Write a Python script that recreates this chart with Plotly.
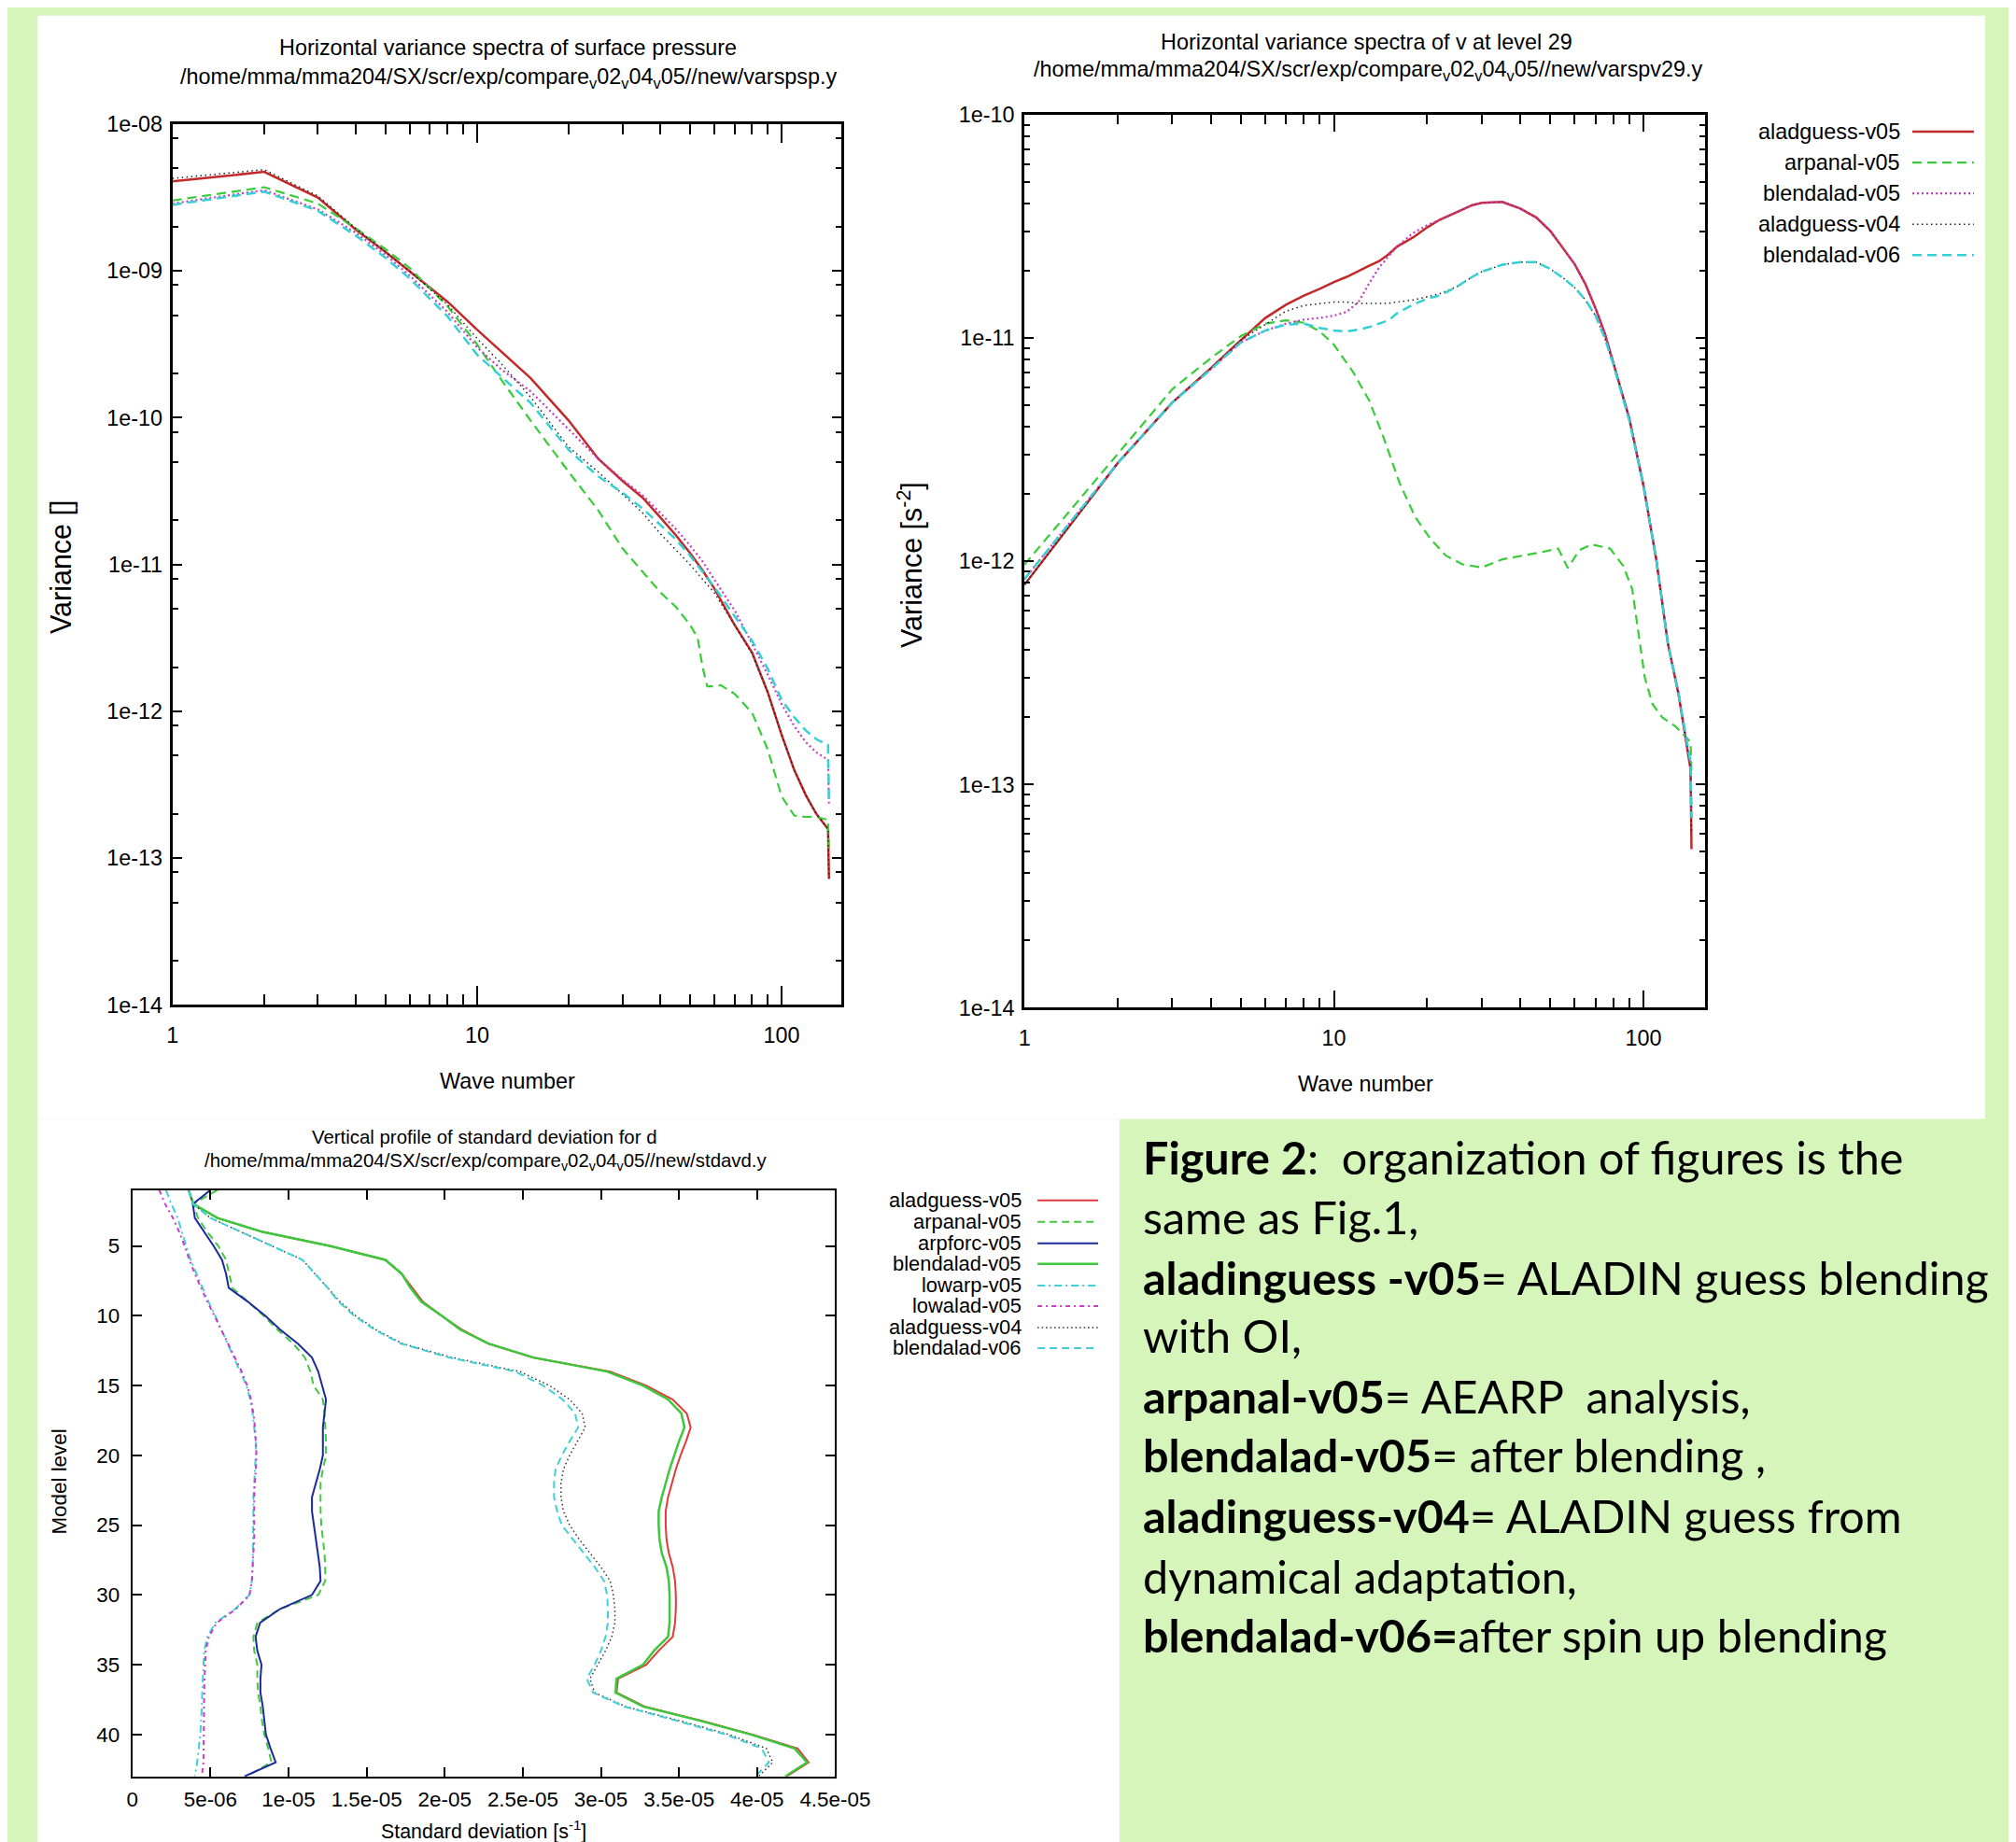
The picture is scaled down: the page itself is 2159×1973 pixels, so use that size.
import plotly.graph_objects as go

W, H = 2159, 1973
# The photographed page shows the figure slightly scaled and offset; these
# constants map target picture pixels back to figure (paper) coordinates.
SX, OX = 0.9803, 14.6
SY, OY = 0.9853, 22.2


def px(x):
    return (x - OX) / SX / W


def py(y):
    return 1 - (y - OY) / SY / H


def fs(s):
    return round(s / 0.982, 1)


# ---------------- Panel 1: surface pressure spectra ----------------
sp_wn = [1, 2, 3, 4, 5, 6, 8, 10, 12, 15, 20, 25, 30, 35, 40, 45, 50, 55, 60, 70, 80, 90, 100, 110, 120, 130, 142, 143]
sp_aladguess_v05 = [4.07e-9, 4.73e-9, 3.16e-9, 1.91e-9, 1.35e-9, 1.00e-9, 6.17e-10, 3.98e-10, 2.82e-10, 1.86e-10,
                    9.55e-11, 5.25e-11, 3.72e-11, 2.85e-11, 2.09e-11, 1.58e-11, 1.20e-11, 9.12e-12, 6.92e-12, 3.89e-12,
                    2.51e-12, 1.35e-12, 6.92e-13, 3.98e-13, 2.69e-13, 2.00e-13, 1.58e-13, 7.24e-14]
sp_blendalad_v05 = [2.88e-9, 3.55e-9, 2.63e-9, 1.82e-9, 1.29e-9, 9.33e-10, 5.25e-10, 3.02e-10, 2.14e-10, 1.51e-10,
                    8.32e-11, 5.25e-11, 3.80e-11, 2.95e-11, 2.24e-11, 1.74e-11, 1.35e-11, 1.05e-11, 7.94e-12, 4.90e-12,
                    2.88e-12, 1.78e-12, 1.12e-12, 7.94e-13, 6.17e-13, 5.25e-13, 4.68e-13, 2.34e-13]
sp_aladguess_v04 = [4.27e-9, 4.90e-9, 3.24e-9, 1.95e-9, 1.35e-9, 1.00e-9, 5.89e-10, 3.47e-10, 2.34e-10, 1.38e-10,
                    6.31e-11, 4.27e-11, 3.02e-11, 2.24e-11, 1.62e-11, 1.26e-11, 1.00e-11, 7.94e-12, 6.46e-12, 3.89e-12,
                    2.45e-12, 1.35e-12, 6.92e-13, 3.98e-13, 2.69e-13, 2.00e-13, 1.58e-13, 7.24e-14]
sp_blendalad_v06 = [2.82e-9, 3.47e-9, 2.57e-9, 1.74e-9, 1.23e-9, 8.91e-10, 4.90e-10, 2.69e-10, 1.91e-10, 1.26e-10,
                    6.03e-11, 3.98e-11, 3.09e-11, 2.40e-11, 1.86e-11, 1.48e-11, 1.15e-11, 8.91e-12, 7.08e-12, 4.47e-12,
                    3.02e-12, 1.95e-12, 1.20e-12, 9.12e-13, 7.41e-13, 6.46e-13, 5.89e-13, 2.34e-13]
sp_wn_arpanal = [1, 2, 3, 4, 5, 6, 8, 10, 12, 15, 20, 25, 30, 35, 40, 45, 50, 53, 55, 57, 60, 63, 70, 80, 90, 100,
                 110, 120, 130, 142, 143]
sp_arpanal_v05 = [3.02e-9, 3.72e-9, 2.88e-9, 1.95e-9, 1.41e-9, 1.05e-9, 5.75e-10, 3.16e-10, 1.82e-10, 9.55e-11,
                  4.27e-11, 2.34e-11, 1.29e-11, 8.91e-12, 6.46e-12, 5.13e-12, 3.89e-12, 3.16e-12, 2.00e-12, 1.48e-12,
                  1.48e-12, 1.51e-12, 1.32e-12, 9.77e-13, 5.50e-13, 2.63e-13, 1.95e-13, 1.91e-13, 1.91e-13, 1.82e-13,
                  1.10e-13]

# ---------------- Panel 2: v at level 29 spectra ----------------
v29_wn = [1, 2, 3, 4, 5, 6, 7, 8, 9, 10, 11, 12, 13, 14, 15, 16, 18, 20, 22, 25, 28, 30, 35, 40, 45, 50, 55, 60,
          65, 70, 75, 80, 85, 90, 100, 110, 120, 130, 142, 143]
v29_aladguess_v05 = [7.85e-13, 2.75e-12, 5.13e-12, 7.33e-12, 9.77e-12, 1.23e-11, 1.41e-11, 1.55e-11, 1.66e-11,
                     1.78e-11, 1.88e-11, 2.00e-11, 2.11e-11, 2.21e-11, 2.37e-11, 2.57e-11, 2.82e-11, 3.13e-11,
                     3.39e-11, 3.67e-11, 3.94e-11, 4.03e-11, 4.07e-11, 3.80e-11, 3.47e-11, 3.02e-11, 2.51e-11,
                     2.14e-11, 1.74e-11, 1.36e-11, 1.05e-11, 7.76e-12, 5.75e-12, 4.37e-12, 2.19e-12, 1.02e-12,
                     4.27e-13, 2.51e-13, 1.17e-13, 5.13e-14]
v29_blendalad_v05 = [8.32e-13, 2.75e-12, 5.13e-12, 7.24e-12, 9.55e-12, 1.08e-11, 1.16e-11, 1.21e-11, 1.23e-11,
                     1.26e-11, 1.31e-11, 1.45e-11, 1.76e-11, 2.07e-11, 2.32e-11, 2.57e-11, 2.95e-11, 3.20e-11,
                     3.39e-11, 3.67e-11, 3.94e-11, 4.03e-11, 4.07e-11, 3.80e-11, 3.47e-11, 3.02e-11, 2.51e-11,
                     2.14e-11, 1.74e-11, 1.36e-11, 1.05e-11, 7.76e-12, 5.75e-12, 4.37e-12, 2.19e-12, 1.02e-12,
                     4.27e-13, 2.57e-13, 1.20e-13, 7.0e-14]
v29_aladguess_v04 = [7.85e-13, 2.75e-12, 5.13e-12, 7.33e-12, 9.77e-12, 1.15e-11, 1.32e-11, 1.40e-11, 1.43e-11,
                     1.45e-11, 1.45e-11, 1.43e-11, 1.43e-11, 1.43e-11, 1.43e-11, 1.45e-11, 1.48e-11, 1.53e-11,
                     1.58e-11, 1.70e-11, 1.88e-11, 1.98e-11, 2.13e-11, 2.19e-11, 2.19e-11, 2.04e-11, 1.86e-11,
                     1.68e-11, 1.48e-11, 1.26e-11, 1.00e-11, 7.76e-12, 5.75e-12, 4.37e-12, 2.19e-12, 1.02e-12,
                     4.27e-13, 2.51e-13, 1.20e-13, 6.0e-14]
v29_blendalad_v06 = [8.32e-13, 2.75e-12, 5.13e-12, 7.24e-12, 9.55e-12, 1.08e-11, 1.15e-11, 1.16e-11, 1.11e-11,
                     1.08e-11, 1.07e-11, 1.09e-11, 1.12e-11, 1.16e-11, 1.20e-11, 1.29e-11, 1.41e-11, 1.50e-11,
                     1.55e-11, 1.70e-11, 1.88e-11, 1.98e-11, 2.13e-11, 2.19e-11, 2.19e-11, 2.04e-11, 1.86e-11,
                     1.68e-11, 1.48e-11, 1.26e-11, 1.00e-11, 7.59e-12, 5.62e-12, 4.27e-12, 2.19e-12, 1.02e-12,
                     4.27e-13, 2.51e-13, 1.26e-13, 7.1e-14]
v29_wn_arpanal = [1, 2, 3, 4, 5, 6, 7, 8, 9, 10, 11.5, 13, 14.5, 16.3, 18.3, 20.5, 23, 26, 30, 35, 41, 47, 53, 57,
                  62, 68, 78, 86, 92, 96, 101, 107, 115, 127, 135, 142, 143]
v29_arpanal_v05 = [9.66e-13, 3.02e-12, 5.89e-12, 8.13e-12, 1.02e-11, 1.16e-11, 1.20e-11, 1.17e-11, 1.07e-11,
                   9.33e-12, 7.08e-12, 5.25e-12, 3.55e-12, 2.24e-12, 1.58e-12, 1.26e-12, 1.06e-12, 9.70e-13,
                   9.38e-13, 1.02e-12, 1.06e-12, 1.10e-12, 1.14e-12, 9.33e-13, 1.12e-12, 1.19e-12, 1.14e-12,
                   9.55e-13, 7.50e-13, 4.90e-13, 3.02e-13, 2.29e-13, 2.00e-13, 1.82e-13, 1.66e-13, 1.55e-13,
                   1.12e-13]

# ---------------- Panel 3: vertical profile of std dev of d ----------------
levels = list(range(1, 44))
sd_aladguess_v05 = [0.36e-5, 0.39e-5, 0.545e-5, 0.835e-5, 1.263e-5, 1.62e-5, 1.725e-5, 1.79e-5, 1.86e-5, 1.98e-5,
                    2.11e-5, 2.28e-5, 2.57e-5, 3.06e-5, 3.29e-5, 3.46e-5, 3.55e-5, 3.575e-5, 3.545e-5, 3.51e-5,
                    3.48e-5, 3.455e-5, 3.43e-5, 3.415e-5, 3.415e-5, 3.42e-5, 3.435e-5, 3.46e-5, 3.475e-5, 3.48e-5,
                    3.48e-5, 3.475e-5, 3.46e-5, 3.37e-5, 3.29e-5, 3.11e-5, 3.10e-5, 3.28e-5, 3.64e-5, 3.97e-5,
                    4.26e-5, 4.33e-5, 4.19e-5]
sd_arpanal_v05 = [0.545e-5, 0.39e-5, 0.42e-5, 0.48e-5, 0.55e-5, 0.60e-5, 0.62e-5, 0.64e-5, 0.74e-5, 0.84e-5,
                  0.93e-5, 1.03e-5, 1.105e-5, 1.14e-5, 1.16e-5, 1.22e-5, 1.23e-5, 1.235e-5, 1.24e-5, 1.24e-5,
                  1.22e-5, 1.205e-5, 1.205e-5, 1.205e-5, 1.21e-5, 1.22e-5, 1.23e-5, 1.235e-5, 1.235e-5, 1.19e-5,
                  0.947e-5, 0.80e-5, 0.775e-5, 0.78e-5, 0.80e-5, 0.80e-5, 0.805e-5, 0.82e-5, 0.83e-5, 0.845e-5,
                  0.87e-5, 0.89e-5, 0.73e-5]
sd_arpforc_v05 = [0.50e-5, 0.387e-5, 0.40e-5, 0.46e-5, 0.52e-5, 0.574e-5, 0.60e-5, 0.617e-5, 0.74e-5, 0.85e-5,
                  0.947e-5, 1.06e-5, 1.15e-5, 1.19e-5, 1.215e-5, 1.24e-5, 1.23e-5, 1.22e-5, 1.22e-5, 1.22e-5,
                  1.20e-5, 1.177e-5, 1.15e-5, 1.15e-5, 1.163e-5, 1.175e-5, 1.19e-5, 1.20e-5, 1.205e-5, 1.15e-5,
                  0.947e-5, 0.818e-5, 0.789e-5, 0.80e-5, 0.827e-5, 0.82e-5, 0.82e-5, 0.835e-5, 0.845e-5, 0.855e-5,
                  0.885e-5, 0.918e-5, 0.718e-5]
sd_blendalad_v05 = [0.36e-5, 0.39e-5, 0.545e-5, 0.835e-5, 1.263e-5, 1.62e-5, 1.725e-5, 1.78e-5, 1.85e-5, 1.98e-5,
                    2.10e-5, 2.28e-5, 2.57e-5, 3.04e-5, 3.27e-5, 3.43e-5, 3.515e-5, 3.535e-5, 3.50e-5, 3.47e-5,
                    3.44e-5, 3.415e-5, 3.39e-5, 3.37e-5, 3.37e-5, 3.375e-5, 3.39e-5, 3.42e-5, 3.435e-5, 3.44e-5,
                    3.44e-5, 3.44e-5, 3.43e-5, 3.34e-5, 3.27e-5, 3.10e-5, 3.094e-5, 3.27e-5, 3.63e-5, 3.96e-5,
                    4.24e-5, 4.32e-5, 4.18e-5]
sd_lowarp_v05 = [0.215e-5, 0.25e-5, 0.29e-5, 0.316e-5, 0.345e-5, 0.373e-5, 0.41e-5, 0.45e-5, 0.488e-5, 0.53e-5,
                 0.57e-5, 0.61e-5, 0.65e-5, 0.69e-5, 0.73e-5, 0.755e-5, 0.77e-5, 0.78e-5, 0.79e-5, 0.79e-5,
                 0.785e-5, 0.78e-5, 0.775e-5, 0.775e-5, 0.775e-5, 0.775e-5, 0.772e-5, 0.77e-5, 0.765e-5, 0.75e-5,
                 0.66e-5, 0.53e-5, 0.48e-5, 0.46e-5, 0.455e-5, 0.45e-5, 0.447e-5, 0.445e-5, 0.44e-5, 0.435e-5,
                 0.425e-5, 0.415e-5, 0.40e-5]
sd_lowalad_v05 = [0.172e-5, 0.21e-5, 0.26e-5, 0.30e-5, 0.335e-5, 0.365e-5, 0.40e-5, 0.44e-5, 0.48e-5, 0.525e-5,
                  0.57e-5, 0.61e-5, 0.655e-5, 0.70e-5, 0.735e-5, 0.76e-5, 0.775e-5, 0.785e-5, 0.79e-5, 0.795e-5,
                  0.79e-5, 0.785e-5, 0.78e-5, 0.78e-5, 0.78e-5, 0.78e-5, 0.775e-5, 0.772e-5, 0.765e-5, 0.75e-5,
                  0.665e-5, 0.54e-5, 0.49e-5, 0.47e-5, 0.465e-5, 0.462e-5, 0.46e-5, 0.459e-5, 0.459e-5, 0.46e-5,
                  0.46e-5, 0.455e-5, 0.445e-5]
sd_aladguess_v04 = [0.36e-5, 0.39e-5, 0.50e-5, 0.70e-5, 0.90e-5, 1.09e-5, 1.17e-5, 1.25e-5, 1.33e-5, 1.43e-5,
                    1.56e-5, 1.73e-5, 2.05e-5, 2.48e-5, 2.67e-5, 2.80e-5, 2.88e-5, 2.90e-5, 2.85e-5, 2.80e-5,
                    2.76e-5, 2.745e-5, 2.745e-5, 2.76e-5, 2.80e-5, 2.86e-5, 2.93e-5, 3.00e-5, 3.06e-5, 3.08e-5,
                    3.09e-5, 3.09e-5, 3.07e-5, 3.03e-5, 2.98e-5, 2.93e-5, 2.96e-5, 3.16e-5, 3.50e-5, 3.82e-5,
                    4.06e-5, 4.10e-5, 4.01e-5]
sd_blendalad_v06 = [0.36e-5, 0.39e-5, 0.50e-5, 0.70e-5, 0.90e-5, 1.09e-5, 1.17e-5, 1.25e-5, 1.32e-5, 1.42e-5,
                    1.55e-5, 1.72e-5, 2.03e-5, 2.45e-5, 2.63e-5, 2.755e-5, 2.835e-5, 2.855e-5, 2.80e-5, 2.75e-5,
                    2.71e-5, 2.70e-5, 2.70e-5, 2.72e-5, 2.75e-5, 2.82e-5, 2.89e-5, 2.96e-5, 3.02e-5, 3.04e-5,
                    3.045e-5, 3.045e-5, 3.03e-5, 3.00e-5, 2.96e-5, 2.91e-5, 2.95e-5, 3.15e-5, 3.48e-5, 3.80e-5,
                    4.03e-5, 4.075e-5, 3.99e-5]

# tick labels
spec_x_ticks = [1, 10, 100]
spec_x_labels = ["1", "10", "100"]
sp_y_ticks = [1e-14, 1e-13, 1e-12, 1e-11, 1e-10, 1e-9, 1e-8]
sp_y_labels = ["1e-14", "1e-13", "1e-12", "1e-11", "1e-10", "1e-09", "1e-08"]
v29_y_ticks = [1e-14, 1e-13, 1e-12, 1e-11, 1e-10]
v29_y_labels = ["1e-14", "1e-13", "1e-12", "1e-11", "1e-10"]
sd_x_ticks = [0, 5e-6, 1e-5, 1.5e-5, 2e-5, 2.5e-5, 3e-5, 3.5e-5, 4e-5, 4.5e-5]
sd_x_labels = ["0", "5e-06", "1e-05", "1.5e-05", "2e-05", "2.5e-05", "3e-05", "3.5e-05", "4e-05", "4.5e-05"]
sd_y_ticks = [5, 10, 15, 20, 25, 30, 35, 40]

# ---------------- styles ----------------
REG = "Liberation Sans, Arial, sans-serif"
CAPFONT = "Lato, Carlito, Calibri, sans-serif"
GREEN_BG = "#d5f5bb"

S_RED = dict(color="#c22a2a", width=2.5)
S_GREEN_D = dict(color="#38cc38", width=2.2, dash="10px,6px")
S_MAG_DOT = dict(color="#c23cc2", width=2.2, dash="2px,3px")
S_BLK_DOT = dict(color="#222222", width=1.5, dash="1.5px,3.5px")
S_CYAN_D = dict(color="#35d0d6", width=2.5, dash="10px,6px")

P_RED = dict(color="#e03a3a", width=2)
P_GREEN_D = dict(color="#44c844", width=2, dash="8px,5px")
P_BLUE = dict(color="#1c2a9c", width=2)
P_GREEN = dict(color="#3cc83c", width=2.5)
P_CYAN_DD = dict(color="#40d0d6", width=2, dash="8px,4px,2px,4px")
P_MAG_DD = dict(color="#c83cc8", width=2, dash="5px,4px,2px,4px")
P_BLK_DOT = dict(color="#333333", width=1.5, dash="1.5px,3px")
P_CYAN_D = dict(color="#40d0d6", width=2, dash="8px,5px")

fig = go.Figure()


def add(x, y, line, xa, ya):
    fig.add_trace(go.Scatter(x=x, y=y, mode="lines", line=line, xaxis=xa, yaxis=ya,
                             showlegend=False, hoverinfo="skip"))


# panel 1
add(sp_wn, sp_aladguess_v05, S_RED, "x", "y")
add(sp_wn_arpanal, sp_arpanal_v05, S_GREEN_D, "x", "y")
add(sp_wn, sp_blendalad_v05, S_MAG_DOT, "x", "y")
add(sp_wn, sp_aladguess_v04, S_BLK_DOT, "x", "y")
add(sp_wn, sp_blendalad_v06, S_CYAN_D, "x", "y")
# panel 2
add(v29_wn, v29_aladguess_v05, S_RED, "x2", "y2")
add(v29_wn_arpanal, v29_arpanal_v05, S_GREEN_D, "x2", "y2")
add(v29_wn, v29_blendalad_v05, S_MAG_DOT, "x2", "y2")
add(v29_wn, v29_aladguess_v04, S_BLK_DOT, "x2", "y2")
add(v29_wn, v29_blendalad_v06, S_CYAN_D, "x2", "y2")
# panel 3
add(sd_aladguess_v05, levels, P_RED, "x3", "y3")
add(sd_arpanal_v05, levels, P_GREEN_D, "x3", "y3")
add(sd_arpforc_v05, levels, P_BLUE, "x3", "y3")
add(sd_blendalad_v05, levels, P_GREEN, "x3", "y3")
add(sd_lowarp_v05, levels, P_CYAN_DD, "x3", "y3")
add(sd_lowalad_v05, levels, P_MAG_DD, "x3", "y3")
add(sd_aladguess_v04, levels, P_BLK_DOT, "x3", "y3")
add(sd_blendalad_v06, levels, P_CYAN_D, "x3", "y3")


def minor_log(decades, mults):
    return [m * 10.0 ** d for d in decades for m in mults]


def axis_common(lw, fsize):
    return dict(showline=True, linecolor="black", linewidth=lw, mirror="allticks", ticks="inside",
                tickcolor="black", showgrid=False, zeroline=False,
                tickfont=dict(family=REG, size=fsize, color="black"), tickmode="array")


xa1 = axis_common(3, fs(23))
xa1.update(type="log", range=[0, 2.197], domain=[px(184.5), px(902)], anchor="y",
           tickvals=spec_x_ticks, ticktext=spec_x_labels, ticklen=20, tickwidth=2, ticklabelstandoff=9,
           minor=dict(ticks="inside", ticklen=11, tickwidth=2, tickcolor="black", tickmode="array",
                      tickvals=minor_log([0, 1], [2, 3, 4, 5, 6, 7, 8, 9]), showgrid=False))
ya1 = axis_common(3, fs(23))
ya1.update(type="log", range=[-14, -8], domain=[py(1076), py(134)], anchor="x",
           tickvals=sp_y_ticks, ticktext=sp_y_labels, ticklen=10, tickwidth=2, ticklabelstandoff=3,
           minor=dict(ticks="inside", ticklen=6, tickwidth=2, tickcolor="black", tickmode="array",
                      tickvals=minor_log(range(-14, -8), [2, 5, 8]), showgrid=False))

xa2 = axis_common(3, fs(23))
xa2.update(type="log", range=[0, 2.2], domain=[px(1098), px(1828)], anchor="y2",
           tickvals=spec_x_ticks, ticktext=spec_x_labels, ticklen=18, tickwidth=2, ticklabelstandoff=9,
           minor=dict(ticks="inside", ticklen=10, tickwidth=2, tickcolor="black", tickmode="array",
                      tickvals=minor_log([0, 1], [2, 3, 4, 5, 6, 7, 8, 9]), showgrid=False))
ya2 = axis_common(3, fs(23))
ya2.update(type="log", range=[-14, -10], domain=[py(1079), py(124)], anchor="x2",
           tickvals=v29_y_ticks, ticktext=v29_y_labels, ticklen=10, tickwidth=2, ticklabelstandoff=3,
           minor=dict(ticks="inside", ticklen=6, tickwidth=2, tickcolor="black", tickmode="array",
                      tickvals=minor_log(range(-14, -10), [2, 3, 4, 5, 6, 7, 8, 9]), showgrid=False))

xa3 = axis_common(2, fs(22))
xa3.update(range=[0, 4.5e-5], domain=[px(141.5), px(895)], anchor="y3",
           tickvals=sd_x_ticks, ticktext=sd_x_labels, ticklen=10, tickwidth=2, ticklabelstandoff=3)
ya3 = axis_common(2, fs(22))
ya3.update(range=[43, 1], domain=[py(1901), py(1274)], anchor="x3",
           tickvals=sd_y_ticks, ticktext=[str(v) for v in sd_y_ticks], ticklen=10, tickwidth=2,
           ticklabelstandoff=7)

shapes = [
    dict(type="rect", xref="paper", yref="paper", x0=px(40), x1=px(2128), y0=py(1198), y1=py(18),
         fillcolor="white", line=dict(width=0), layer="below"),
    dict(type="rect", xref="paper", yref="paper", x0=px(40), x1=px(1200), y0=py(1990), y1=py(1198),
         fillcolor="white", line=dict(width=0), layer="below"),
]

annotations = []


def text(x, y, s, size, fam=REG, xanchor="center", yanchor="middle", angle=0):
    annotations.append(dict(xref="paper", yref="paper", x=px(x), y=py(y), text=s, showarrow=False,
                            xanchor=xanchor, yanchor=yanchor, textangle=angle,
                            font=dict(family=fam, size=fs(size), color="black")))


SUBPATH = "/home/mma/mma204/SX/scr/exp/compare<sub>v</sub>02<sub>v</sub>04<sub>v</sub>05//new/"
# titles
text(544, 52, "Horizontal variance spectra of surface pressure", 23)
text(545, 85, SUBPATH + "varspsp.y", 23)
text(1465, 61, "Horizontal variance spectra of v at level 29", 23, yanchor="bottom")
text(1467, 60, SUBPATH + "varspv29.y", 23, yanchor="top")
text(519, 1230, "Vertical profile of standard deviation for d", 20, yanchor="bottom")
text(521, 1229, SUBPATH + "stdavd.y", 20, yanchor="top")
# axis titles
text(544, 1157, "Wave number", 23)
text(1464, 1160, "Wave number", 23)
text(65, 607, "Variance []", 30, angle=-90)
text(976, 605, "Variance [s<sup>-2</sup>]", 30, angle=-90)
text(518, 1958, "Standard deviation [s<sup>-1</sup>]", 21)
text(63, 1586, "Model level", 22, angle=-90)

# legend panel 2
leg2 = [("aladguess-v05", S_RED), ("arpanal-v05", S_GREEN_D), ("blendalad-v05", S_MAG_DOT),
        ("aladguess-v04", S_BLK_DOT), ("blendalad-v06", S_CYAN_D)]
leg2_y = [142, 175, 208, 241, 274]
for (name, st), yy in zip(leg2, leg2_y):
    text(2039, yy, name, 23, xanchor="right")
    shapes.append(dict(type="line", xref="paper", yref="paper", x0=px(2050), x1=px(2116), y0=py(yy), y1=py(yy),
                       line=dict(color=st["color"], width=st["width"], dash=st.get("dash", "solid"))))

# legend panel 3
leg3 = [("aladguess-v05", P_RED), ("arpanal-v05", P_GREEN_D), ("arpforc-v05", P_BLUE),
        ("blendalad-v05", P_GREEN), ("lowarp-v05", P_CYAN_DD), ("lowalad-v05", P_MAG_DD),
        ("aladguess-v04", P_BLK_DOT), ("blendalad-v06", P_CYAN_D)]
leg3_y = [1285, 1308, 1331, 1353, 1376, 1398, 1421, 1443]
for (name, st), yy in zip(leg3, leg3_y):
    text(1097, yy, name, 21.5, xanchor="right")
    shapes.append(dict(type="line", xref="paper", yref="paper", x0=px(1112), x1=px(1177), y0=py(yy), y1=py(yy),
                       line=dict(color=st["color"], width=st["width"], dash=st.get("dash", "solid"))))

# caption box
caption = [
    "<b>Figure 2</b>:  organization of figures is the",
    "same as Fig.1,",
    "<b>aladinguess -v05</b>= ALADIN guess blending",
    "with OI,",
    "<b>arpanal-v05</b>= AEARP  analysis,",
    "<b>blendalad-v05</b>= after blending ,",
    "<b>aladinguess-v04</b>= ALADIN guess from",
    "dynamical adaptation,",
    "<b>blendalad-v06=</b>after spin up blending",
]
cap_y = [1238, 1302, 1367, 1429, 1494, 1557, 1622, 1687, 1750]
for s, yy in zip(caption, cap_y):
    text(1223, yy, s, 47.6, fam=CAPFONT, xanchor="left")

fig.update_layout(
    width=W, height=H, autosize=False,
    margin=dict(l=0, r=0, t=0, b=0, pad=0),
    paper_bgcolor=GREEN_BG, plot_bgcolor="white",
    showlegend=False,
    xaxis=xa1, yaxis=ya1, xaxis2=xa2, yaxis2=ya2, xaxis3=xa3, yaxis3=ya3,
    shapes=shapes, annotations=annotations,
)

fig.write_html("out.html")
